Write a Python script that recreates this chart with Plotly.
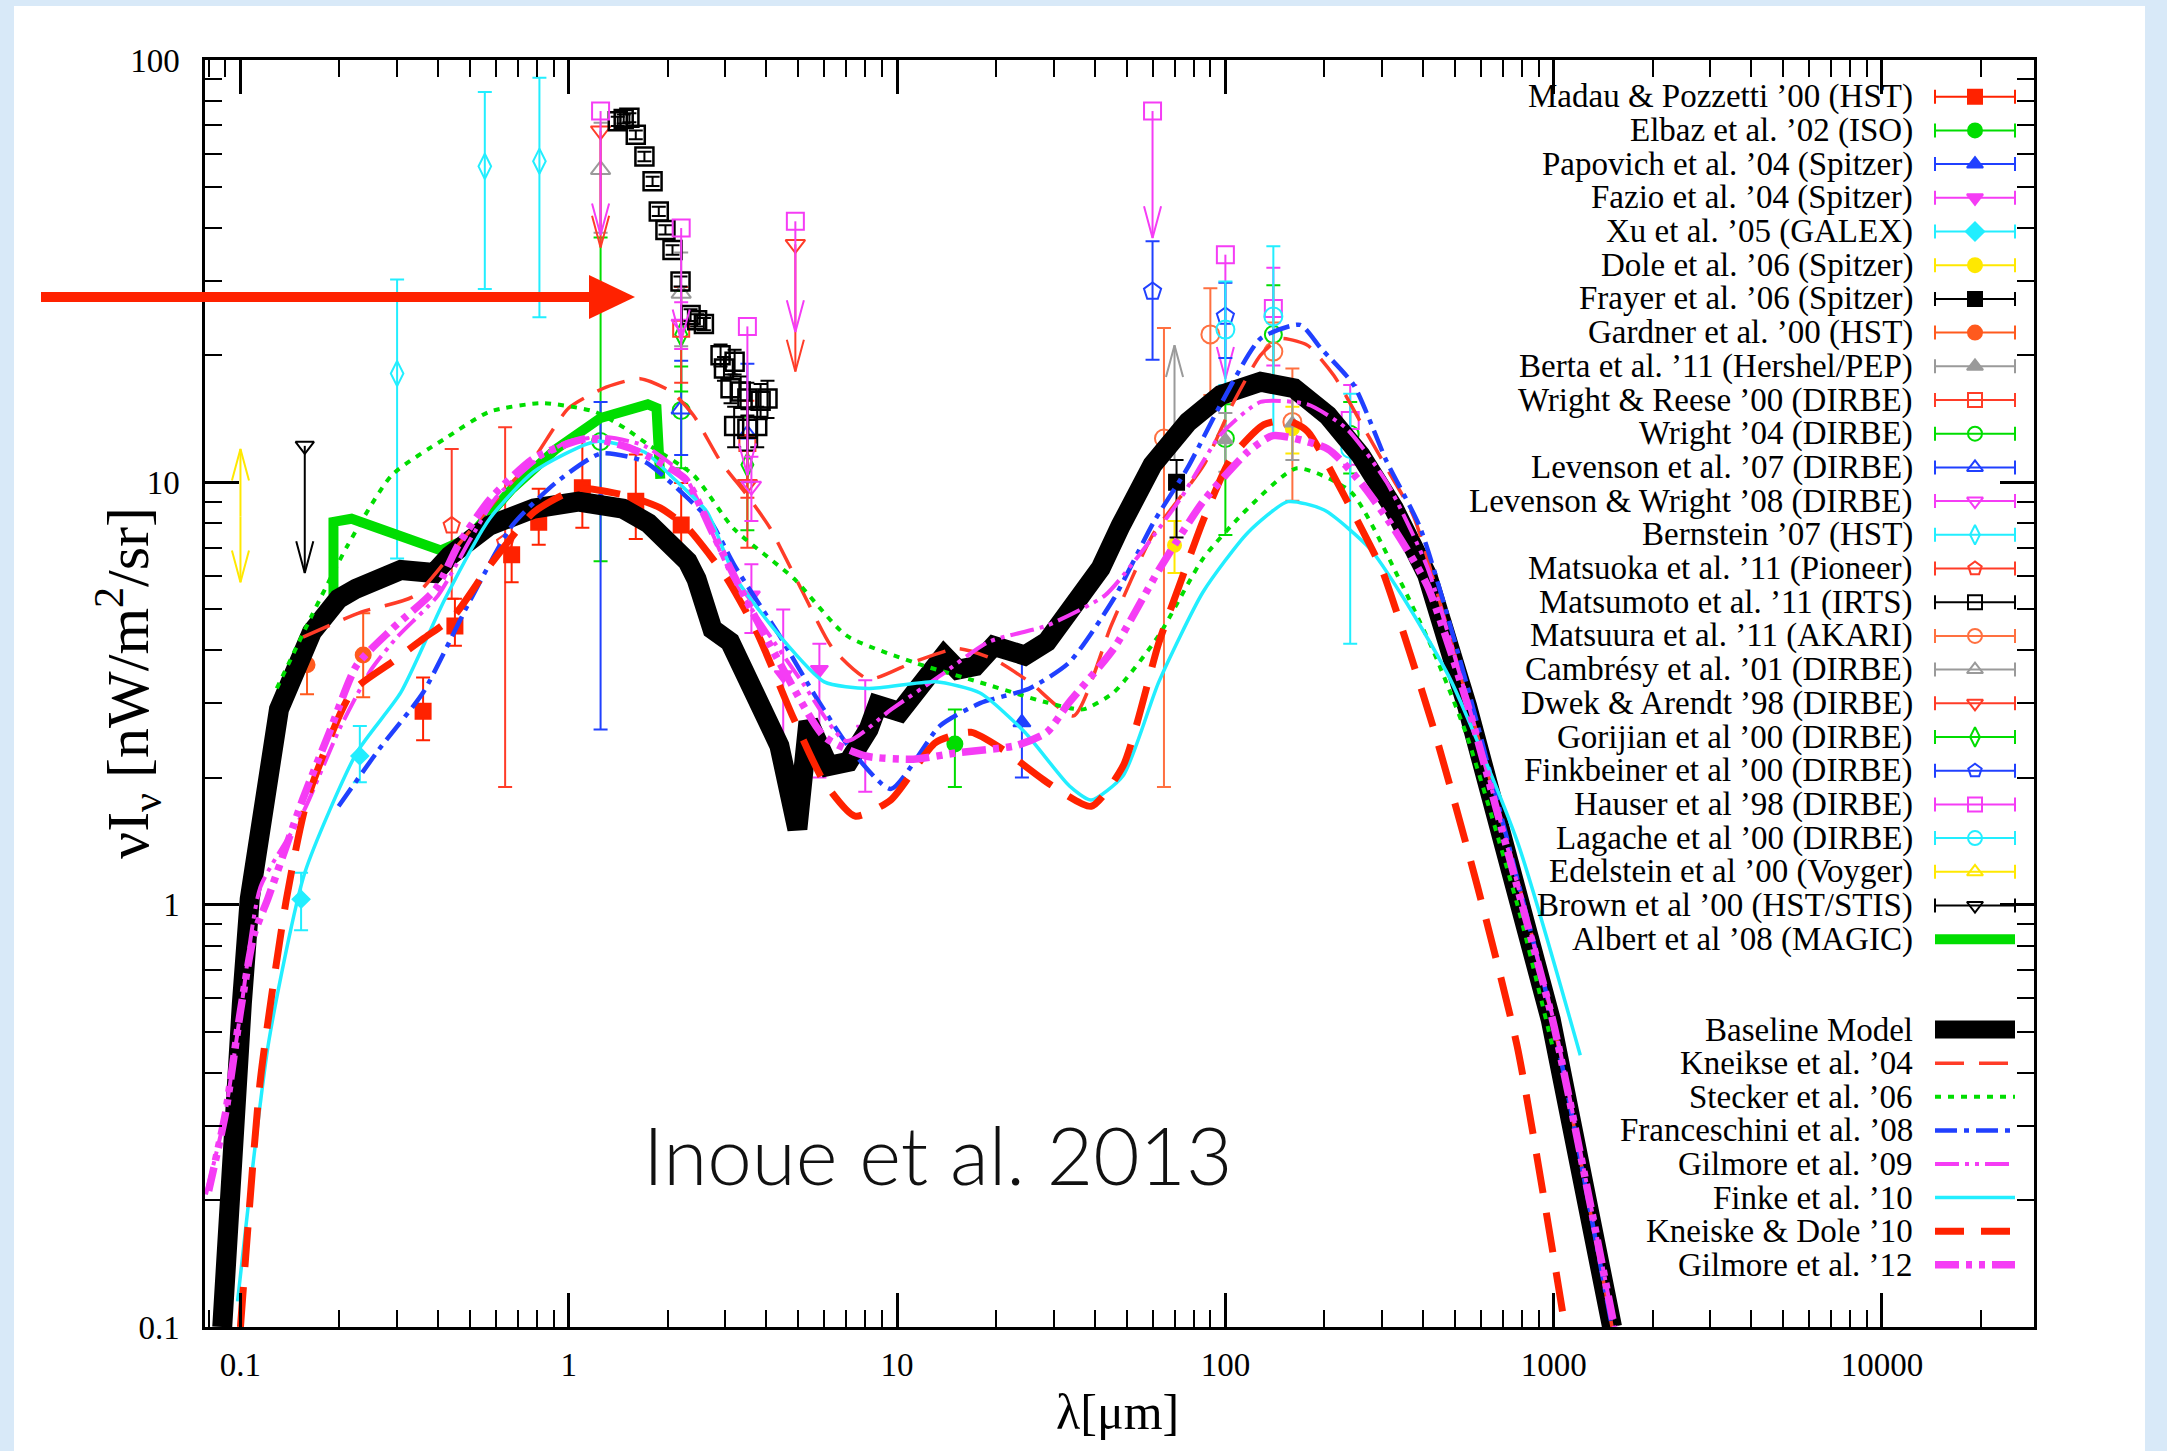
import plotly.graph_objects as go

# ------------------------------------------------------------------
# EBL model curves: wavelength [micron] and nu I_nu [nW m^-2 sr^-1]
# ------------------------------------------------------------------
BASE_LAM = [0.088, 0.0935, 0.101, 0.1067, 0.117, 0.131, 0.165, 0.199, 0.225, 0.264,
            0.308, 0.389, 0.434, 0.573, 0.783, 1.07, 1.46, 1.75, 2.0, 2.3,
            2.45, 2.6, 2.74, 3.1, 3.74, 4.38, 4.97, 5.37, 6.18, 7.11,
            8.19, 8.72, 10.2, 11.9, 13.9, 15.3, 17.3, 19.7, 24.5, 28.6,
            33.5, 41.7, 48, 60, 77, 97, 128, 162, 205, 258,
            326, 412, 545, 775, 979, 1506]
BASE_VAL = [0.1, 0.28, 0.585, 1.03, 1.78, 2.9, 4.42, 5.3, 5.6, 5.9,
            6.2, 6.1, 6.7, 7.9, 8.67, 9.0, 8.67, 8.0, 7.3, 6.5,
            5.9, 4.9, 4.49, 4.19, 3.01, 2.38, 1.51, 2.71, 2.13, 2.18,
            2.6, 2.97, 2.86, 3.37, 3.89, 3.6, 3.67, 4.1, 3.89, 4.19,
            5.0, 6.26, 7.9, 11.0, 13.9, 16.1, 17.3, 16.7, 14.4, 11.6,
            8.67, 6.03, 2.95, 1.11, 0.535, 0.1]

K04_LAM = [0.155, 0.233, 0.338, 0.477, 0.631, 0.783, 1.0, 1.3, 1.65, 2.05,
           2.4, 2.9, 3.5, 4.1, 5.1, 6.37, 8.19, 11.2, 15.3, 19.7,
           25.3, 34.5, 45, 60, 86, 106, 128, 147, 178, 214,
           258, 310, 375, 500, 775, 1000, 1506]
K04_VAL = [4.3, 4.93, 5.38, 7.35, 9.5, 11.4, 15.0, 16.8, 17.6, 16.4,
           14.4, 11.2, 9.3, 7.8, 5.6, 4.04, 3.42, 3.75, 4.04, 3.81,
           3.37, 2.8, 4.6, 7.5, 11.0, 15.5, 20.0, 21.9, 21.1, 17.9,
           13.9, 10.8, 8.28, 3.9, 1.15, 0.52, 0.1]

STE_LAM = [0.129, 0.165, 0.212, 0.289, 0.42, 0.574, 0.83, 1.2, 1.49, 1.74,
           2.4, 3.18, 4.86, 7.0, 11.2, 17.9, 28.6, 36.8, 45.7, 62.7,
           85.5, 117, 165, 241, 341, 431, 545, 775, 1000]
STE_VAL = [3.25, 4.84, 7.09, 10.4, 12.7, 14.7, 15.4, 14.7, 13.4, 12.3,
           10.4, 7.77, 5.91, 4.34, 3.75, 3.36, 3.01, 2.9, 3.18, 4.34,
           6.6, 8.67, 10.8, 9.5, 5.83, 3.97, 2.5, 1.0, 0.45]

FRA_LAM = [0.199, 0.264, 0.36, 0.491, 0.672, 0.916, 1.25, 1.7, 2.26,
           2.71, 3.2, 4.38, 5.62, 7.23, 9.57, 13.5, 17.9, 25.3,
           33.5, 45.7, 60.6, 76.6, 96.8, 128, 169, 195, 246, 310,
           393, 545, 775, 1000, 1506]
FRA_VAL = [1.71, 2.33, 3.18, 5.1, 7.9, 10.0, 11.7, 11.2, 9.3,
           8.06, 6.35, 4.34, 3.13, 2.33, 1.88, 2.65, 3.0, 3.25,
           3.75, 5.3, 8.07, 10.8, 15.3, 21.9, 23.6, 20.8, 17.0, 11.2,
           7.77, 3.3, 1.15, 0.52, 0.1]

G09_LAM = [0.0785, 0.0894, 0.101, 0.115, 0.155, 0.2, 0.25, 0.3, 0.4, 0.5,
           0.6, 0.8, 1.0, 1.3, 1.7, 2.26, 3.2, 5.13, 7.0, 9.6,
           13.5, 19.0, 28.6, 43, 53.6, 73, 97, 128, 178, 234,
           310, 412, 545, 775, 1000, 1530]
G09_VAL = [0.206, 0.313, 0.585, 1.1, 1.65, 2.6, 3.6, 4.3, 5.4, 7.3,
           9.2, 11.3, 12.5, 12.8, 12.2, 10.3, 5.8, 3.37, 2.44, 2.9,
           3.48, 4.19, 4.58, 5.4, 6.6, 9.15, 13.0, 15.5, 15.3, 13.4,
           10.0, 6.3, 3.05, 1.12, 0.53, 0.1]

FIN_LAM = [0.098, 0.122, 0.157, 0.226, 0.308, 0.42, 0.574, 0.783, 1.21, 1.7,
           2.09, 2.64, 3.2, 4.38, 6.0, 8.19, 13.1, 17.9, 24.5, 33.5,
           39, 48.8, 62.7, 85.5, 117, 155, 200, 276, 350, 484,
           775, 1205]
FIN_VAL = [0.115, 0.475, 1.19, 2.29, 3.18, 5.3, 8.2, 10.6, 12.5, 11.8,
           10.2, 8.5, 6.0, 4.34, 3.37, 3.25, 3.37, 3.17, 2.56, 1.91,
           1.77, 2.02, 3.37, 5.5, 7.6, 9.0, 8.6, 6.96, 5.3, 3.42,
           1.41, 0.44]

KD_LAM = [0.1, 0.115, 0.138, 0.16, 0.218, 0.289, 0.36, 0.447, 0.574, 0.783,
          1.07, 1.5, 1.9, 2.3, 2.74, 3.04, 3.74, 4.8, 6.0, 7.45,
          9.57, 13.1, 16.8, 21, 28.6, 39, 48.8, 62.7, 73, 86,
          104, 131, 155, 178, 219, 276, 302, 431, 585, 775,
          1083]
KD_VAL = [0.1, 0.385, 1.03, 1.78, 3.18, 3.75, 4.26, 4.83, 6.35, 8.5,
          9.66, 9.3, 8.7, 7.8, 6.6, 5.9, 4.42, 2.8, 1.95, 1.62,
          1.77, 2.42, 2.56, 2.33, 1.95, 1.71, 2.13, 4.17, 5.8, 8.2,
          11.4, 13.7, 14.0, 13.2, 10.0, 7.09, 6.13, 2.61, 1.11, 0.46,
          0.1]

G12_LAM = [0.08, 0.09, 0.1, 0.11, 0.121, 0.155, 0.187, 0.226, 0.289, 0.394,
           0.46, 0.574, 0.783, 1.14, 1.56, 2.26, 2.74, 3.5, 4.38, 6.0,
           8.0, 11.2, 15.3, 23, 28.6, 33.3, 45.7, 62.7, 85.5, 117,
           140, 205, 258, 326, 412, 545, 775, 1000, 1530]
G12_VAL = [0.21, 0.32, 0.56, 0.85, 1.03, 1.78, 2.57, 3.69, 4.49, 5.6,
           7.09, 9.1, 11.4, 12.7, 12.0, 10.2, 7.6, 5.2, 3.75, 2.5,
           2.25, 2.21, 2.29, 2.38, 2.56, 3.0, 4.04, 6.2, 9.0, 11.8,
           12.9, 12.0, 10.0, 7.77, 5.7, 3.0, 1.1, 0.52, 0.1]

# MAGIC (Albert et al. 2008) allowed-envelope line
MAGIC_LAM = [0.192, 0.192, 0.218, 0.264, 0.408, 0.493, 0.672, 0.916, 1.25, 1.74, 1.85, 1.9]
MAGIC_VAL = [5.4, 8.06, 8.2, 7.77, 6.9, 7.36, 9.66, 12.0, 14.2, 15.3, 15.0, 10.2]

# ------------------------------------------------------------------
# Measurements: wavelength, value, +err, -err
# ------------------------------------------------------------------
MADAU_LAM = [0.36, 0.45, 0.67, 0.81, 1.1, 1.6, 2.2]
MADAU_VAL = [2.87, 4.57, 6.74, 8.04, 9.71, 9.02, 7.92]
MADAU_UP = [0.58, 0.73, 1.25, 1.62, 3.00, 2.62, 2.04]
MADAU_DN = [0.42, 0.47, 0.94, 0.92, 1.90, 1.68, 1.21]

ELBAZ_LAM, ELBAZ_VAL, ELBAZ_UP, ELBAZ_DN = [15], [2.4], [0.5], [0.5]
PAPOVICH_LAM, PAPOVICH_VAL, PAPOVICH_UP, PAPOVICH_DN = [24], [2.7], [1.1], [0.7]

FAZIO_LAM = [3.6, 4.5, 5.8, 8.0]
FAZIO_VAL = [5.4, 3.5, 3.6, 2.6]
FAZIO_UP = [1.0, 1.5, 0.55, 0.8]
FAZIO_DN = [1.0, 1.48, 1.6, 0.75]

XU_LAM, XU_VAL, XU_UP, XU_DN = [0.153, 0.231], [1.03, 2.25], [0.16, 0.4], [0.16, 0.3]
DOLE_LAM, DOLE_VAL, DOLE_UP, DOLE_DN = [70, 160], [7.1, 13.4], [1.0, 1.7], [1.0, 1.7]
FRAYER_LAM, FRAYER_VAL, FRAYER_UP, FRAYER_DN = [71], [10.0], [1.3], [2.6]
GARDNER_LAM, GARDNER_VAL, GARDNER_UP, GARDNER_DN = [0.1595, 0.2365], [3.7, 3.9], [0.65, 1.0], [0.55, 0.8]
BERTA_LAM, BERTA_VAL, BERTA_UP, BERTA_DN = [100, 160], [12.6, 13.8], [2.0, 2.5], [2.0, 2.5]
BERTA_LIM_LAM, BERTA_LIM_FROM, BERTA_LIM_TO = [70], [11.3], [21.1]

WREESE_LAM, WREESE_VAL, WREESE_UP, WREESE_DN = [2.2, 3.5], [23.1, 12.4], [5.9, 3.2], [5.9, 3.2]
WRIGHT_LAM = [1.25, 2.2, 100, 140, 240]
WRIGHT_VAL = [12.5, 14.8, 12.7, 22.4, 13.0]
WRIGHT_UP = [25.5, 4.0, 2.6, 6.9, 2.5]
WRIGHT_DN = [6.0, 4.0, 5.2, 6.0, 2.5]
LEV07_LAM, LEV07_VAL, LEV07_UP, LEV07_DN = [1.25, 2.2, 3.5], [9.0, 14.9, 13.0], [6.5, 4.5, 6.1], [6.4, 3.3, 3.0]
LEVW08_LAM, LEVW08_VAL, LEVW08_UP, LEVW08_DN = [2.2, 3.6], [23.7, 9.8], [3.0, 1.7], [3.0, 1.7]
BERN_LAM = [0.3, 0.555, 0.814]
BERN_VAL = [18.1, 56.0, 57.6]
BERN_UP = [12.1, 28.0, 33.2]
BERN_DN = [11.5, 27.3, 33.0]
MATSUOKA_LAM, MATSUOKA_VAL, MATSUOKA_UP, MATSUOKA_DN = [0.44, 0.64], [7.9, 7.2], [4.1, 6.3], [2.6, 5.3]

MATSUMOTO_LAM = [1.41, 1.47, 1.53, 1.60, 1.70, 1.80, 1.88, 1.97, 2.07, 2.19,
                 2.35, 2.46, 2.58, 2.90, 2.97, 3.11, 3.20, 3.34, 3.50, 3.84,
                 3.19, 3.50, 3.75, 4.03]
MATSUMOTO_VAL = [71.6, 72.5, 73.0, 66.5, 59.1, 51.6, 43.8, 39.6, 35.5, 29.9,
                 24.9, 24.2, 23.7, 20.0, 18.6, 16.7, 19.3, 16.4, 15.8, 15.6,
                 13.6, 13.4, 13.6, 15.8]
MATSUMOTO_ERR = [1.8, 1.8, 1.8, 1.6, 1.5, 1.3, 1.1, 1.0, 0.9, 0.8,
                 0.8, 0.8, 0.8, 1.2, 1.2, 1.3, 1.3, 1.4, 1.4, 1.5,
                 1.5, 1.5, 1.5, 1.6]

MATSUURA_LAM = [65, 90, 140, 160]
MATSUURA_VAL = [12.7, 22.4, 20.4, 13.9]
MATSUURA_UP = [10.5, 6.4, 3.5, 4.7]
MATSUURA_DN = [10.8, 6.3, 3.3, 4.85]
CAMB_LAM, CAMB_VAL, CAMB_UP, CAMB_DN = [1.25, 2.2], [55.0, 28.0], [16.0, 7.0], [16.0, 7.0]
DWEK_LAM, DWEK_VAL, DWEK_UP, DWEK_DN = [3.5], [9.9], [2.9], [2.9]
DWEK_UL_LAM, DWEK_UL_VAL, DWEK_UL_TIP = [1.25, 4.9], [68.0, 36.6], [36.0, 18.3]
GORJ_LAM, GORJ_VAL, GORJ_UP, GORJ_DN = [2.2, 3.5], [22.4, 11.0], [6.0, 3.3], [6.0, 3.3]
FINK_LAM, FINK_VAL, FINK_UP, FINK_DN = [60, 100], [28.3, 24.7], [8.9, 5.0], [8.8, 5.0]
HAUSER_LAM, HAUSER_VAL, HAUSER_UP, HAUSER_DN = [140, 240], [25.8, 14.0], [6.4, 3.0], [6.9, 3.0]
HAUSER_UL_LAM = [1.25, 2.2, 3.5, 4.9, 60, 100]
HAUSER_UL_VAL = [75.7, 40.0, 23.4, 41.5, 75.7, 34.6]
HAUSER_UL_TIP = [38.5, 21.6, 10.4, 22.7, 37.9, 17.6]
LAGACHE_LAM, LAGACHE_VAL, LAGACHE_UP, LAGACHE_DN = [100, 140, 240], [23.0, 24.7, 12.0], [6.9, 11.5, 4.2], [6.0, 11.8, 7.85]
EDEL_LAM, EDEL_MID, EDEL_HI, EDEL_LO = [0.1], [8.3], [12.0], [5.8]
BROWN_LAM, BROWN_VAL, BROWN_TIP = [0.157], [12.2], [6.1]

X_TICKS = [0.1, 1, 10, 100, 1000, 10000]
X_TICKTEXT = ['0.1', '1', '10', '100', '1000', '10000']
Y_TICKS = [0.1, 1, 10, 100]
Y_TICKTEXT = ['0.1', '1', '10', '100']

# ------------------------------------------------------------------
# colours and geometry
# ------------------------------------------------------------------
RED = '#ff2200'
RED2 = '#ff3c28'
GREEN = '#00dd00'
BLUE = '#2040ff'
MAGENTA = '#f53cf5'
CYAN = '#22eeff'
YELLOW = '#ffe800'
ORANGE = '#ff5a1e'
ORANGE2 = '#ff7040'
GRAY = '#9a9a9a'
BLACK = '#000000'

FIG_W, FIG_H = 2167, 1451
PLOT_L, PLOT_R, PLOT_T, PLOT_B = 205, 2034, 60, 1327
HEAD_HW, HEAD_HL = 0.026, 0.075   # arrow-head half width / length in decades

SERIF = 'Liberation Serif'


def paper_x(px):
    return (px - PLOT_L) / (PLOT_R - PLOT_L)


def paper_y(py):
    return (PLOT_B - py) / (PLOT_B - PLOT_T)


fig = go.Figure()


def add_points(lam, val, up, dn, symbol, color, size=16, lw=2):
    fig.add_trace(go.Scatter(
        x=lam, y=val, mode='markers',
        marker=dict(symbol=symbol, size=size, color=color, line=dict(color=color, width=lw)),
        error_y=dict(type='data', symmetric=False, array=up, arrayminus=dn,
                     color=color, thickness=2, width=7),
        hoverinfo='skip', showlegend=False))


def add_arrows(lam, start, tip, color, symbol=None, size=16):
    xs, ys = [], []
    for l, v, t in zip(lam, start, tip):
        xs += [l, l, None]
        ys += [v, t, None]
        d = 1 if t < v else -1
        xs += [l * 10 ** -HEAD_HW, l, l * 10 ** HEAD_HW, None]
        ys += [t * 10 ** (d * HEAD_HL), t, t * 10 ** (d * HEAD_HL), None]
    fig.add_trace(go.Scatter(x=xs, y=ys, mode='lines', line=dict(color=color, width=2),
                             hoverinfo='skip', showlegend=False))
    if symbol:
        fig.add_trace(go.Scatter(
            x=lam, y=start, mode='markers',
            marker=dict(symbol=symbol, size=size, color=color, line=dict(color=color, width=2)),
            hoverinfo='skip', showlegend=False))


# ---- measurements
add_arrows(EDEL_LAM, EDEL_MID, EDEL_HI, YELLOW)
add_arrows(EDEL_LAM, EDEL_MID, EDEL_LO, YELLOW)
add_arrows(BROWN_LAM, BROWN_VAL, BROWN_TIP, BLACK, 'triangle-down-open')
add_points(XU_LAM, XU_VAL, XU_UP, XU_DN, 'diamond', CYAN, 13)
add_points(BERN_LAM, BERN_VAL, BERN_UP, BERN_DN, 'diamond-tall-open', CYAN, 18)
add_points(GARDNER_LAM, GARDNER_VAL, GARDNER_UP, GARDNER_DN, 'circle', ORANGE, 15)
add_points(MATSUOKA_LAM, MATSUOKA_VAL, MATSUOKA_UP, MATSUOKA_DN, 'pentagon-open', RED2, 17)
add_points(MADAU_LAM, MADAU_VAL, MADAU_UP, MADAU_DN, 'square', RED, 15)
add_points(WRIGHT_LAM, WRIGHT_VAL, WRIGHT_UP, WRIGHT_DN, 'circle-open', GREEN, 17)
add_points(LEV07_LAM, LEV07_VAL, LEV07_UP, LEV07_DN, 'triangle-up-open', BLUE, 17)
add_points(GORJ_LAM, GORJ_VAL, GORJ_UP, GORJ_DN, 'diamond-tall-open', GREEN, 17)
add_points(WREESE_LAM, WREESE_VAL, WREESE_UP, WREESE_DN, 'square-open', RED2, 16)
add_points(CAMB_LAM, CAMB_VAL, CAMB_UP, CAMB_DN, 'triangle-up-open', GRAY, 17)
add_points(DWEK_LAM, DWEK_VAL, DWEK_UP, DWEK_DN, 'triangle-down-open', RED2, 17)
add_arrows(DWEK_UL_LAM, DWEK_UL_VAL, DWEK_UL_TIP, RED2, 'triangle-down-open', 17)
add_points(LEVW08_LAM, LEVW08_VAL, LEVW08_UP, LEVW08_DN, 'triangle-down-open', MAGENTA, 17)
add_points(FAZIO_LAM, FAZIO_VAL, FAZIO_UP, FAZIO_DN, 'triangle-down', MAGENTA, 15)
add_points(MATSUMOTO_LAM, MATSUMOTO_VAL, MATSUMOTO_ERR, MATSUMOTO_ERR, 'square-open', BLACK, 18, 2.5)
add_arrows(HAUSER_UL_LAM, HAUSER_UL_VAL, HAUSER_UL_TIP, MAGENTA, 'square-open', 17)
add_points(HAUSER_LAM, HAUSER_VAL, HAUSER_UP, HAUSER_DN, 'square-open', MAGENTA, 17)
add_points(ELBAZ_LAM, ELBAZ_VAL, ELBAZ_UP, ELBAZ_DN, 'circle', GREEN, 15)
add_points(PAPOVICH_LAM, PAPOVICH_VAL, PAPOVICH_UP, PAPOVICH_DN, 'triangle-up', BLUE, 15)
add_points(MATSUURA_LAM, MATSUURA_VAL, MATSUURA_UP, MATSUURA_DN, 'circle-open', ORANGE2, 18)
add_points(FINK_LAM, FINK_VAL, FINK_UP, FINK_DN, 'pentagon-open', BLUE, 18)
add_points(LAGACHE_LAM, LAGACHE_VAL, LAGACHE_UP, LAGACHE_DN, 'circle-open', CYAN, 18)
add_points(DOLE_LAM, DOLE_VAL, DOLE_UP, DOLE_DN, 'circle', YELLOW, 13)
add_points(BERTA_LAM, BERTA_VAL, BERTA_UP, BERTA_DN, 'triangle-up', GRAY, 13)
add_arrows(BERTA_LIM_LAM, BERTA_LIM_FROM, BERTA_LIM_TO, GRAY)
add_points(FRAYER_LAM, FRAYER_VAL, FRAYER_UP, FRAYER_DN, 'square', BLACK, 15)

# ---- models (baseline underneath the others)
MODELS = [
    (BASE_LAM, BASE_VAL, BLACK, 20, 'solid', 'linear'),
    (K04_LAM, K04_VAL, RED2, 3.5, '29px,15px', 'spline'),
    (STE_LAM, STE_VAL, GREEN, 4, '6px,7px', 'spline'),
    (FRA_LAM, FRA_VAL, BLUE, 4.5, '22px,7px,5px,7px', 'spline'),
    (G09_LAM, G09_VAL, MAGENTA, 4, '24px,6px,4px,6px,4px,6px', 'spline'),
    (FIN_LAM, FIN_VAL, CYAN, 3.5, 'solid', 'spline'),
    (KD_LAM, KD_VAL, RED, 7, '40px,20px', 'spline'),
    (G12_LAM, G12_VAL, MAGENTA, 7.5, '24px,7px,6px,7px,6px,7px', 'spline'),
]
LEGEND_DASH = ['solid', '29px,15px', '6px,7px', '22px,7px,5px,7px',
               '24px,6px,4px,6px,4px,6px', 'solid', '29px,17px', '24px,7px,6px,7px,6px,7px']
LEGEND_WIDTH = [18, 3.5, 4, 4.5, 4, 3.5, 7, 7.5]

fig.add_trace(go.Scatter(x=MAGIC_LAM, y=MAGIC_VAL, mode='lines',
                         line=dict(color=GREEN, width=10), hoverinfo='skip', showlegend=False))
for lam, val, col, w, dash, shape in MODELS:
    line = dict(color=col, width=w, dash=dash, shape=shape)
    if shape == 'spline':
        line['smoothing'] = 0.6
    fig.add_trace(go.Scatter(x=lam, y=val, mode='lines', line=line,
                             hoverinfo='skip', showlegend=False))

# ------------------------------------------------------------------
# legend (drawn on a pixel-coordinate overlay)
# ------------------------------------------------------------------
DATA_KEYS = [
    ('Madau & Pozzetti ’00 (HST)', 'square', RED),
    ('Elbaz et al. ’02 (ISO)', 'circle', GREEN),
    ('Papovich et al. ’04 (Spitzer)', 'triangle-up', BLUE),
    ('Fazio et al. ’04 (Spitzer)', 'triangle-down', MAGENTA),
    ('Xu et al. ’05 (GALEX)', 'diamond', CYAN),
    ('Dole et al. ’06 (Spitzer)', 'circle', YELLOW),
    ('Frayer et al. ’06 (Spitzer)', 'square', BLACK),
    ('Gardner et al. ’00 (HST)', 'circle', ORANGE),
    ('Berta et al. ’11 (Hershel/PEP)', 'triangle-up', GRAY),
    ('Wright & Reese ’00 (DIRBE)', 'square-open', RED2),
    ('Wright ’04 (DIRBE)', 'circle-open', GREEN),
    ('Levenson et al. ’07 (DIRBE)', 'triangle-up-open', BLUE),
    ('Levenson & Wright ’08 (DIRBE)', 'triangle-down-open', MAGENTA),
    ('Bernstein ’07 (HST)', 'diamond-tall-open', CYAN),
    ('Matsuoka et al. ’11 (Pioneer)', 'pentagon-open', RED2),
    ('Matsumoto et al. ’11 (IRTS)', 'square-open', BLACK),
    ('Matsuura et al. ’11 (AKARI)', 'circle-open', ORANGE2),
    ('Cambrésy et al. ’01 (DIRBE)', 'triangle-up-open', GRAY),
    ('Dwek & Arendt ’98 (DIRBE)', 'triangle-down-open', RED2),
    ('Gorijian et al ’00 (DIRBE)', 'diamond-tall-open', GREEN),
    ('Finkbeiner et al ’00 (DIRBE)', 'pentagon-open', BLUE),
    ('Hauser et al ’98 (DIRBE)', 'square-open', MAGENTA),
    ('Lagache et al ’00 (DIRBE)', 'circle-open', CYAN),
    ('Edelstein et al ’00 (Voyger)', 'triangle-up-open', YELLOW),
    ('Brown et al ’00 (HST/STIS)', 'triangle-down-open', BLACK),
    ('Albert et al ’08 (MAGIC)', None, GREEN),
]
MODEL_KEYS = ['Baseline Model', 'Kneikse et al. ’04', 'Stecker et al. ’06',
              'Franceschini et al. ’08', 'Gilmore et al. ’09', 'Finke et al. ’10',
              'Kneiske & Dole ’10', 'Gilmore et al. ’12']

LEG_TEXT_X = 1915
LEG_X0, LEG_X1, LEG_XM = 1935, 2015, 1975
DATA_ROW0, DATA_STEP = 96.7, 33.7
MODEL_ROW0, MODEL_STEP = 1029.6, 33.6
CAP = 7

annotations = []


def legend_text(label, y):
    annotations.append(dict(x=LEG_TEXT_X, y=y, xref='x2', yref='y2', text=label,
                            showarrow=False, xanchor='right', yanchor='middle',
                            font=dict(family=SERIF, size=33, color='black')))


for i, (label, symbol, col) in enumerate(DATA_KEYS):
    y = DATA_ROW0 + i * DATA_STEP
    legend_text(label, y)
    if symbol is None:
        fig.add_trace(go.Scatter(x=[LEG_X0, LEG_X1], y=[y, y], mode='lines', xaxis='x2', yaxis='y2',
                                 line=dict(color=col, width=10), hoverinfo='skip', showlegend=False))
        continue
    fig.add_trace(go.Scatter(
        x=[LEG_X0, LEG_X1, None, LEG_X0, LEG_X0, None, LEG_X1, LEG_X1],
        y=[y, y, None, y - CAP, y + CAP, None, y - CAP, y + CAP],
        mode='lines', xaxis='x2', yaxis='y2', line=dict(color=col, width=2),
        hoverinfo='skip', showlegend=False))
    fig.add_trace(go.Scatter(
        x=[LEG_XM], y=[y], mode='markers', xaxis='x2', yaxis='y2',
        marker=dict(symbol=symbol, size=14, color=col, line=dict(color=col, width=2)),
        hoverinfo='skip', showlegend=False))

for i, (label, (_, _, col, _, _, _)) in enumerate(zip(MODEL_KEYS, MODELS)):
    y = MODEL_ROW0 + i * MODEL_STEP
    legend_text(label, y)
    fig.add_trace(go.Scatter(x=[LEG_X0, LEG_X1], y=[y, y], mode='lines', xaxis='x2', yaxis='y2',
                             line=dict(color=col, width=LEGEND_WIDTH[i], dash=LEGEND_DASH[i]),
                             hoverinfo='skip', showlegend=False))

# ---- axis titles and label
annotations.append(dict(x=paper_x(128), y=paper_y(683), xref='paper', yref='paper',
                        text='νI<sub>ν</sub> [nW/m<sup>2</sup>/sr]', textangle=-90,
                        showarrow=False, xanchor='center', yanchor='middle',
                        font=dict(family=SERIF, size=60, color='black')))
annotations.append(dict(x=paper_x(1117), y=paper_y(1412), xref='paper', yref='paper',
                        text='λ[μm]', showarrow=False, xanchor='center', yanchor='middle',
                        font=dict(family=SERIF, size=50, color='black')))
annotations.append(dict(x=paper_x(937), y=paper_y(1154), xref='paper', yref='paper',
                        text='Inoue et al. 2013', showarrow=False, xanchor='center', yanchor='middle',
                        font=dict(family='Lato, Liberation Sans', size=80, color='#111111', weight=300)))

# ---- slide frame and pointer arrow
shapes = [
    dict(type='rect', xref='paper', yref='paper', layer='below',
         x0=paper_x(14), x1=paper_x(2145), y0=paper_y(FIG_H + 5), y1=paper_y(6),
         fillcolor='white', line=dict(width=0)),
    dict(type='rect', xref='paper', yref='paper', layer='above',
         x0=paper_x(41), x1=paper_x(592), y0=paper_y(302), y1=paper_y(292),
         fillcolor='#ff2200', line=dict(width=0)),
    dict(type='path', xref='paper', yref='paper', layer='above',
         path='M {:.5f},{:.5f} L {:.5f},{:.5f} L {:.5f},{:.5f} Z'.format(
             paper_x(589), paper_y(275), paper_x(635), paper_y(297), paper_x(589), paper_y(319)),
         fillcolor='#ff2200', line=dict(width=0)),
]

axis_common = dict(
    type='log', showline=True, linecolor='black', linewidth=2.5, mirror='allticks',
    ticks='inside', ticklen=34, tickwidth=2.5, tickcolor='black',
    showgrid=False, zeroline=False, tickmode='array',
    tickfont=dict(family=SERIF, size=33, color='black'),
    minor=dict(ticks='inside', ticklen=17, tickwidth=2, tickcolor='black', dtick='D1', showgrid=False),
)

fig.update_layout(
    width=FIG_W, height=FIG_H,
    margin=dict(l=PLOT_L, r=FIG_W - PLOT_R, t=PLOT_T, b=FIG_H - PLOT_B),
    paper_bgcolor='#d8e9f8', plot_bgcolor='white',
    showlegend=False,
    xaxis=dict(axis_common, range=[-1.108, 4.463], tickvals=X_TICKS, ticktext=X_TICKTEXT,
               ticklabelstandoff=7),
    yaxis=dict(axis_common, range=[-1, 2], tickvals=Y_TICKS, ticktext=Y_TICKTEXT,
               ticklabelstandoff=16),
    xaxis2=dict(overlaying='x', anchor='y2', range=[PLOT_L, PLOT_R], visible=False),
    yaxis2=dict(overlaying='y', anchor='x2', range=[PLOT_B, PLOT_T], visible=False),
    annotations=annotations,
    shapes=shapes,
)

fig.write_html('out.html')
